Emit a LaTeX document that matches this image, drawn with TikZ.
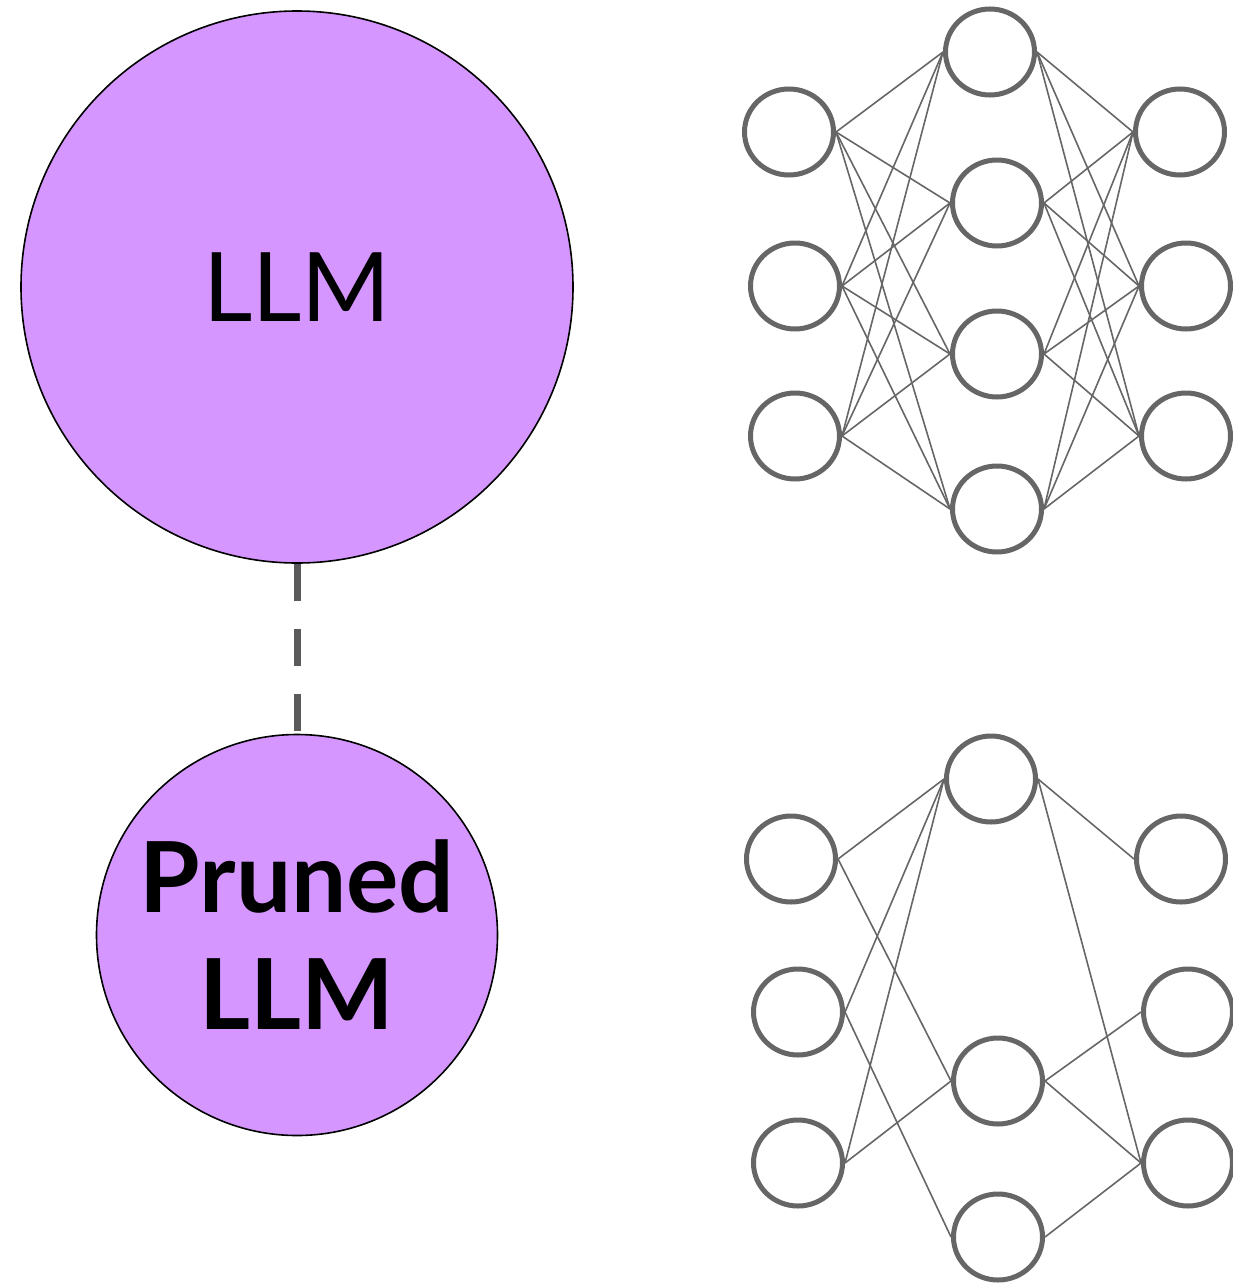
\documentclass[tikz,border=0pt]{standalone}
\usepackage{fontspec}
\usetikzlibrary{shapes.geometric}
\setmainfont{Lato}
\definecolor{llmfill}{RGB}{213,151,255}
\definecolor{netgray}{RGB}{102,102,102}
\definecolor{dashgray}{RGB}{90,90,90}
\begin{document}
\begin{tikzpicture}[x=1pt,y=-1pt,
  neuron/.style={ellipse,draw=netgray,line width=5pt,minimum width=89pt,minimum height=86pt,inner sep=0pt},
  big/.style={circle,draw=black,line width=1.6pt,fill=llmfill,inner sep=0pt,align=center},
  wire/.style={draw=netgray,line width=1.6pt}]
\useasboundingbox (0,0) rectangle (1233,1285);
% big circles
\node[big,minimum size=552pt,font=\fontsize{96}{110}\selectfont] (llm) at (297,287) {LLM};
\node[big,minimum size=401pt,font=\fontsize{98}{117}\selectfont\bfseries] (pruned) at (297,935) {Pruned\\LLM};
\draw[dashgray,line width=7pt,dash pattern=on 37pt off 28pt] (llm.south) -- (pruned.north);
% top network
\node[neuron] (a1) at (789,132) {};
\node[neuron] (a2) at (795,286) {};
\node[neuron] (a3) at (795,436) {};
\node[neuron] (b1) at (990,52) {};
\node[neuron] (b2) at (997,203) {};
\node[neuron] (b3) at (997,354) {};
\node[neuron] (b4) at (997,509) {};
\node[neuron] (c1) at (1180,132) {};
\node[neuron] (c2) at (1186,286) {};
\node[neuron] (c3) at (1186,436) {};
\foreach \i in {1,2,3}{\foreach \j in {1,2,3,4}{\draw[wire] (a\i.east) -- (b\j.west);}}
\foreach \j in {1,2,3,4}{\foreach \k in {1,2,3}{\draw[wire] (b\j.east) -- (c\k.west);}}
% bottom network
\node[neuron] (p1) at (791,859) {};
\node[neuron] (p2) at (798,1012) {};
\node[neuron] (p3) at (798,1163) {};
\node[neuron] (q1) at (991,779) {};
\node[neuron] (q2) at (998,1081) {};
\node[neuron] (q3) at (998,1237) {};
\node[neuron] (r1) at (1181,859) {};
\node[neuron] (r2) at (1188,1012) {};
\node[neuron] (r3) at (1188,1163) {};
\draw[wire] (p1.east) -- (q1.west);
\draw[wire] (p1.east) -- (q2.west);
\draw[wire] (p2.east) -- (q1.west);
\draw[wire] (p2.east) -- (q3.west);
\draw[wire] (p3.east) -- (q1.west);
\draw[wire] (p3.east) -- (q2.west);
\draw[wire] (q1.east) -- (r1.west);
\draw[wire] (q1.east) -- (r3.west);
\draw[wire] (q2.east) -- (r2.west);
\draw[wire] (q2.east) -- (r3.west);
\draw[wire] (q3.east) -- (r3.west);
\end{tikzpicture}
\end{document}
